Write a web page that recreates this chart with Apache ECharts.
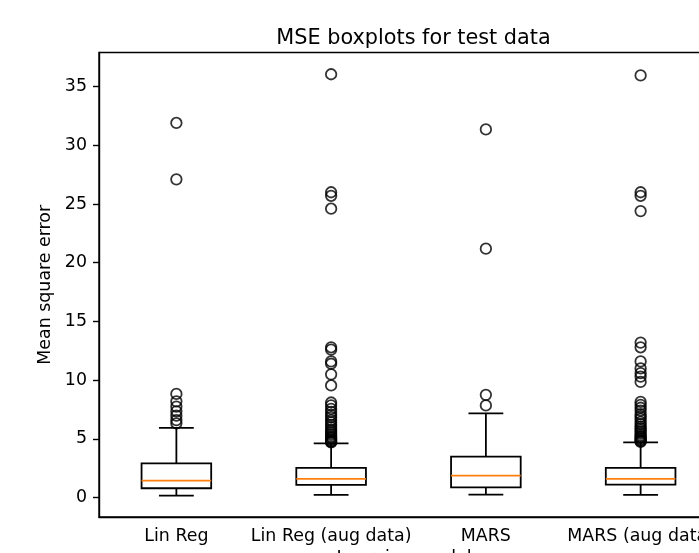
<!DOCTYPE html>
<html>
<head>
<meta charset="utf-8">
<script src="https://cdn.jsdelivr.net/npm/echarts@6/dist/echarts.min.js"></script>
<style>
html,body{margin:0;padding:0;background:#fff;}
#c{width:699px;height:553px;}
</style>
</head>
<body>
<div id="c"></div>
<script>
// ---- data ----
var categories = ['Lin Reg', 'Lin Reg (aug data)', 'MARS', 'MARS (aug data)'];
var whiskerLow  = [0.17, 0.23, 0.26, 0.23];
var q1          = [0.80, 1.08, 0.88, 1.10];
var medians     = [1.45, 1.59, 1.87, 1.59];
var q3          = [2.92, 2.53, 3.49, 2.53];
var whiskerHigh = [5.94, 4.62, 7.18, 4.71];

var outliersLinReg = [6.33, 6.6, 6.98, 7.35, 7.75, 8.2, 8.83, 27.1, 31.9];
var outliersLinRegAug = [4.7, 4.75, 4.8, 4.9, 5.0, 5.1, 5.2, 5.35, 5.5, 5.65, 5.8, 6.0, 6.2, 6.4, 6.6,
  6.85, 7.05, 7.3, 7.55, 7.85, 8.1, 9.55, 10.5, 11.4, 11.6, 12.6, 12.8, 24.6, 25.7, 26.0, 36.05];
var outliersMARS = [7.85, 8.75, 21.2, 31.35];
var outliersMARSAug = [4.75, 4.8, 4.9, 5.0, 5.1, 5.2, 5.3, 5.45, 5.6, 5.75, 5.9, 6.05, 6.25, 6.45, 6.7,
  6.9, 7.1, 7.4, 7.65, 7.9, 8.15, 9.85, 10.3, 10.6, 11.0, 11.6, 12.8, 13.2, 24.4, 25.7, 26.0, 35.95];
var allOutliers = [outliersLinReg, outliersLinRegAug, outliersMARS, outliersMARSAug];

var yTicks = [0, 5, 10, 15, 20, 25, 30, 35];
var yMin = -1.65, yMax = 37.9;

var titleText = 'MSE boxplots for test data';
var yName = 'Mean square error';
var xName = 'Learning models';

// ---- build ----
var boxData = categories.map(function (c, i) {
  return [i, whiskerLow[i], q1[i], medians[i], q3[i], whiskerHigh[i]];
});
var outlierData = [];
allOutliers.forEach(function (arr, i) {
  arr.forEach(function (v) { outlierData.push([i, v]); });
});

var LW = 1.8;
var BOX_FRAC = 0.45;   // box width as a fraction of category spacing (matplotlib default)

function renderBox(params, api) {
  var i = api.value(0);
  var band = api.size([1, 0])[0];
  var hb = band * BOX_FRAC / 2;
  var hc = hb / 2;
  var pLo = api.coord([i, api.value(1)]);
  var pQ1 = api.coord([i, api.value(2)]);
  var pMd = api.coord([i, api.value(3)]);
  var pQ3 = api.coord([i, api.value(4)]);
  var pHi = api.coord([i, api.value(5)]);
  var x = pMd[0];
  var st = {stroke: '#000', lineWidth: LW, fill: null};
  return {
    type: 'group',
    children: [
      {type: 'line', shape: {x1: x, y1: pQ1[1], x2: x, y2: pLo[1]}, style: st},
      {type: 'line', shape: {x1: x, y1: pQ3[1], x2: x, y2: pHi[1]}, style: st},
      {type: 'line', shape: {x1: x - hc, y1: pLo[1], x2: x + hc, y2: pLo[1]}, style: st},
      {type: 'line', shape: {x1: x - hc, y1: pHi[1], x2: x + hc, y2: pHi[1]}, style: st},
      {type: 'rect', shape: {x: x - hb, y: pQ3[1], width: 2 * hb, height: pQ1[1] - pQ3[1]},
        style: {stroke: '#000', lineWidth: LW, fill: null}},
      {type: 'line', shape: {x1: x - hb, y1: pMd[1], x2: x + hb, y2: pMd[1]},
        style: {stroke: '#ff7f0e', lineWidth: LW}}
    ]
  };
}

var FONT = 'DejaVu Sans';
var chart = echarts.init(document.getElementById('c'), null, {renderer: 'canvas'});
chart.setOption({
  animation: false,
  backgroundColor: '#fff',
  title: {
    text: titleText,
    left: 408.5,
    top: 23,
    textAlign: 'center',
    textStyle: {fontFamily: FONT, fontSize: 20.8, fontWeight: 'normal', color: '#000'}
  },
  grid: {
    left: 99, top: 52.5, width: 619, height: 464.5,
    show: true, borderColor: '#000', borderWidth: 1.4, backgroundColor: 'transparent',
    containLabel: false,
    outerBoundsMode: 'none'
  },
  xAxis: {
    type: 'category',
    data: categories,
    boundaryGap: true,
    name: xName,
    nameLocation: 'middle',
    nameGap: 31,
    nameTextStyle: {fontFamily: FONT, fontSize: 17.4, color: '#000', verticalAlign: 'top', lineHeight: 18},
    axisLine: {onZero: false, lineStyle: {color: '#000', width: 1.4}},
    axisTick: {alignWithLabel: true, length: 6, lineStyle: {color: '#000', width: 1.4}},
    axisLabel: {fontFamily: FONT, fontSize: 17.4, color: '#000', margin: 11, interval: 0},
    splitLine: {show: false}
  },
  yAxis: {
    type: 'value',
    min: yMin,
    max: yMax,
    name: yName,
    nameLocation: 'middle',
    nameGap: 33,
    nameTextStyle: {fontFamily: FONT, fontSize: 17.4, color: '#000'},
    axisLine: {show: true, onZero: false, lineStyle: {color: '#000', width: 1.4}},
    axisTick: {show: true, length: 6, customValues: yTicks, lineStyle: {color: '#000', width: 1.4}},
    axisLabel: {fontFamily: FONT, fontSize: 17.4, color: '#000', margin: 12, customValues: yTicks},
    splitLine: {show: false}
  },
  series: [
    {
      type: 'custom',
      renderItem: renderBox,
      data: boxData,
      encode: {x: 0, y: [1, 2, 3, 4, 5]},
      z: 2
    },
    {
      type: 'scatter',
      data: outlierData,
      symbol: 'circle',
      symbolSize: 10.5,
      itemStyle: {color: 'rgba(0,0,0,0)', borderColor: '#000', borderWidth: 1.8},
      z: 3
    }
  ]
});
</script>
</body>
</html>
